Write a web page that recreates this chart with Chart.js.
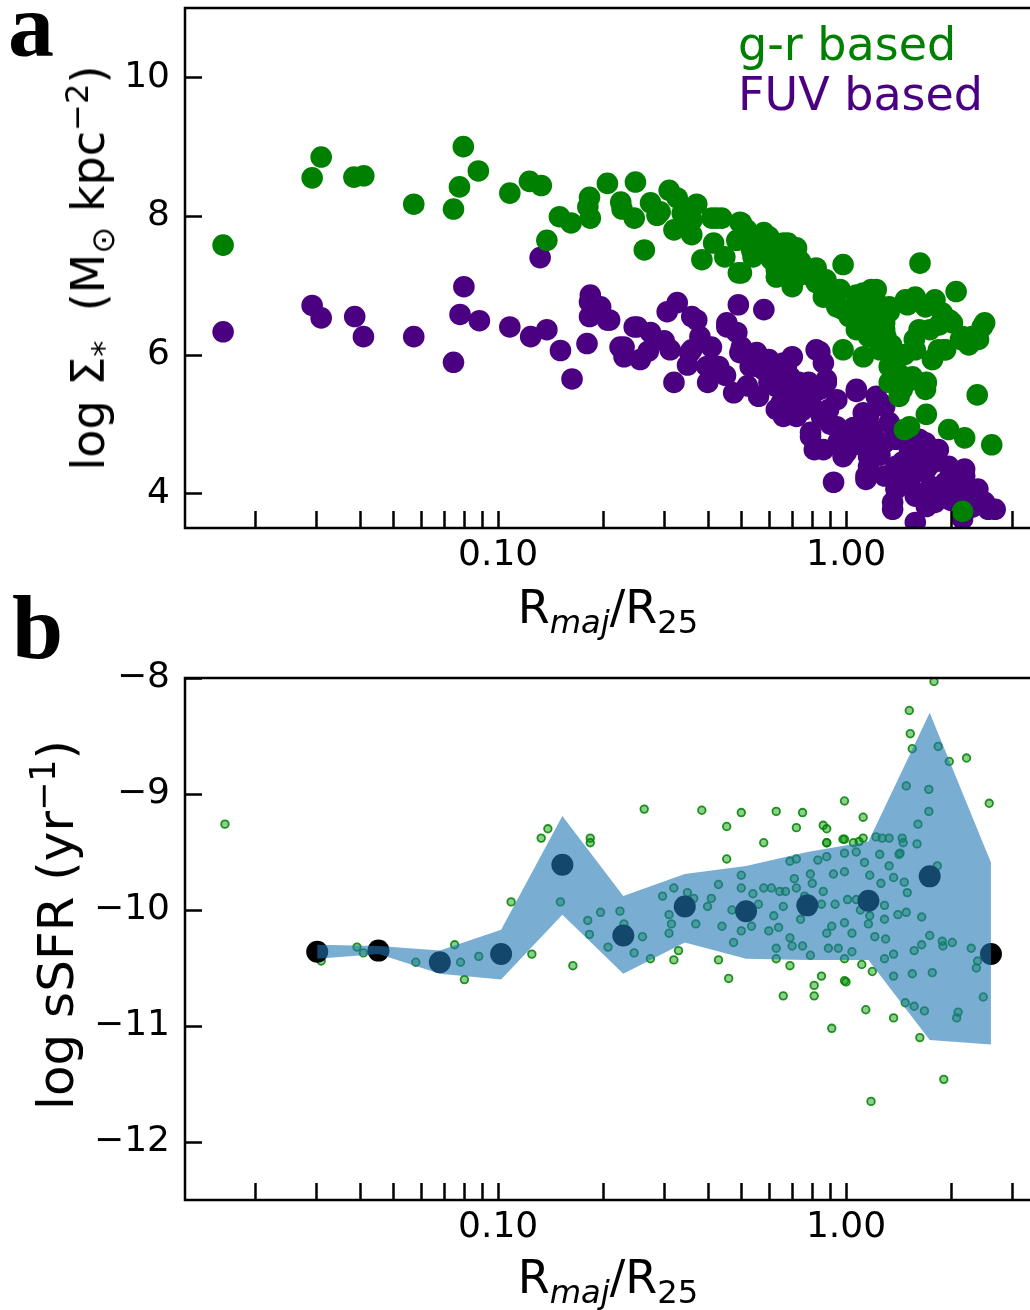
<!DOCTYPE html>
<html lang="en">
<head>
<meta charset="UTF-8">
<script src="https://cdn.jsdelivr.net/npm/chart.js"></script>
<title>Surface density and sSFR profiles</title>
<style>
  html, body { margin: 0; padding: 0; background: #fff; overflow: hidden; width: 1030px; height: 1310px; }
  .box { position: absolute; left: 0; }
  .lbl { position: absolute; font-family: "DejaVu Sans"; color: #000; white-space: nowrap; line-height: 1; }
  .ctr { transform: translateX(-50%); }
  .rot { transform: translate(-50%, -50%) rotate(-90deg); }
  .panel { position: absolute; font-family: "Liberation Serif"; font-weight: bold; font-size: 92px; line-height: 1; }
  sub, sup { font-size: 70%; line-height: 0; }
</style>
</head>
<body>
  <div class="box" style="top:-40px; width:1045px; height:680px;"><canvas id="chartA" width="1045" height="680"></canvas></div>
  <div class="box" style="top:620px; width:1045px; height:690px;"><canvas id="chartB" width="1045" height="690"></canvas></div>

  <div class="panel" style="left:8px; top:-21px;">a</div>
  <div class="panel" style="left:12px; top:581px;">b</div>

  <div class="lbl" style="left:738px; top:21px; font-size:46px; color:green;">g-r based</div>
  <div class="lbl" style="left:738px; top:71px; font-size:46px; color:indigo;">FUV based</div>

  <div class="lbl rot" style="left:88px; top:268px; font-size:46px;">log &Sigma;<sub>*</sub>&nbsp; (M<sub>&#8857;</sub> kpc<sup>&minus;2</sup>)</div>
  <div class="lbl rot" style="left:56px; top:925px; font-size:50px;">log sSFR (yr<sup>&minus;1</sup>)</div>

  <div class="lbl ctr" style="left:608px; top:584px; font-size:46px;">R<sub><i>maj</i></sub>/R<sub>25</sub></div>
  <div class="lbl ctr" style="left:608px; top:1254px; font-size:46px;">R<sub><i>maj</i></sub>/R<sub>25</sub></div>

<script>
// x axis (shared)
const xMin = 0.01259, xMax = 3.47;
const xTicks = [0.02, 0.03, 0.04, 0.05, 0.06, 0.07, 0.08, 0.09, 0.1,
                0.2, 0.3, 0.4, 0.5, 0.6, 0.7, 0.8, 0.9, 1, 2, 3];
const xLabelled = [0.1, 1];

// panel a: log stellar surface density
const yTicksA = [4, 6, 8, 10];
const grPoints = [
  [0.0162,7.58],[0.0292,8.55],[0.0310,8.85],[0.0385,8.56],[0.0411,8.58],[0.0572,8.17],[0.0744,8.10],[0.0774,8.42],[0.0794,9.00],[0.0877,8.65],
  [0.108,8.33],[0.123,8.50],[0.133,8.44],[0.138,7.65],[0.150,7.99],[0.162,7.90],[0.181,8.13],[0.183,8.27],[0.184,7.97],[0.206,8.47],
  [0.225,8.20],[0.227,8.10],[0.246,7.97],[0.248,8.49],[0.263,7.51],[0.274,8.19],[0.286,8.01],[0.292,8.06],[0.310,8.37],[0.320,7.80],
  [0.327,8.26],[0.338,8.04],[0.360,7.94],[0.360,7.73],[0.372,8.17],[0.385,7.37],[0.411,7.97],[0.416,7.61],[0.424,7.97],[0.439,7.97],
  [0.448,7.41],[0.485,7.65],[0.49,7.18],[0.495,7.91],[0.50,7.90],[0.50,7.18],[0.518,7.80],[0.535,7.51],[0.54,7.47],[0.54,7.41],
  [0.553,7.65],[0.58,7.76],[0.59,7.51],[0.60,7.70],[0.61,7.37],[0.63,7.41],[0.63,7.22],[0.63,7.12],[0.66,7.61],[0.66,7.44],
  [0.68,7.61],[0.69,7.22],[0.70,7.51],[0.70,6.98],[0.72,7.54],[0.72,7.12],[0.73,7.37],[0.74,7.34],[0.78,7.15],[0.79,7.22],
  [0.82,7.25],[0.82,7.04],[0.85,7.01],[0.86,6.83],[0.875,7.08],[0.89,6.94],[0.92,6.79],[0.94,6.69],[0.96,6.94],[0.98,7.30],
  [0.98,6.65],[0.98,6.07],[1.02,6.55],[1.03,6.65],[1.07,6.86],[1.07,6.36],[1.11,6.53],[1.12,6.89],[1.12,6.55],[1.12,5.97],
  [1.16,6.79],[1.16,6.26],[1.18,6.94],[1.21,6.50],[1.22,6.94],[1.24,6.72],[1.25,6.07],[1.29,6.36],[1.29,6.46],[1.30,6.26],
  [1.33,6.62],[1.33,6.69],[1.33,5.83],[1.33,5.60],[1.35,6.14],[1.39,5.93],[1.39,5.97],[1.42,5.40],[1.43,5.71],[1.45,5.50],
  [1.47,6.00],[1.47,4.92],[1.48,6.79],[1.50,6.72],[1.52,4.96],[1.55,5.68],[1.56,5.64],[1.57,6.22],[1.58,6.83],[1.58,6.07],
  [1.62,6.36],[1.63,7.32],[1.69,5.50],[1.69,6.69],[1.70,5.60],[1.70,5.14],[1.74,6.36],[1.77,5.93],[1.80,6.79],[1.84,6.07],
  [1.85,6.43],[1.89,6.60],[1.91,6.07],[1.93,6.07],[1.97,4.92],[1.98,6.50],[2.02,6.46],[2.07,6.91],[2.13,6.22],[2.16,6.26],
  [2.19,4.80],[2.25,6.14],[2.30,6.26],[2.38,5.42],[2.40,6.22],[2.46,6.40],[2.50,6.46],[2.62,4.70],[2.16,3.74]
];
const fuvPoints = [
  [0.0162,6.33],[0.0292,6.71],[0.0310,6.53],[0.0387,6.55],[0.0410,6.26],[0.0572,6.26],[0.0744,5.89],[0.0777,6.58],[0.0797,6.98],[0.0883,6.49],
  [0.108,6.40],[0.124,6.26],[0.132,7.40],[0.138,6.36],[0.151,6.06],[0.163,5.65],[0.180,6.16],[0.183,6.76],[0.183,6.55],
  [0.184,6.86],[0.193,6.69],[0.197,6.69],[0.206,6.50],[0.209,6.50],[0.224,6.11],[0.230,6.11],[0.230,5.97],[0.246,6.40],[0.251,6.40],
  [0.256,5.93],[0.27,6.05],[0.274,6.32],[0.30,6.20],[0.306,6.62],[0.312,6.07],[0.320,5.60],[0.327,6.75],[0.35,5.85],[0.355,6.03],
  [0.360,6.55],[0.360,6.07],[0.372,6.50],[0.380,6.26],[0.398,5.83],[0.40,5.60],[0.41,6.11],[0.43,5.83],[0.45,5.70],[0.454,6.46],
  [0.454,6.40],[0.475,5.45],[0.485,6.32],[0.49,6.72],[0.495,6.03],[0.50,6.11],[0.52,5.55],[0.53,5.83],[0.54,5.97],[0.553,6.03],
  [0.553,5.83],[0.56,5.40],[0.58,6.65],[0.58,5.78],[0.60,5.93],[0.60,5.60],[0.62,5.75],[0.63,5.54],[0.63,5.21],[0.65,5.30],
  [0.66,5.88],[0.66,5.11],[0.673,5.83],[0.69,5.35],[0.69,5.68],[0.70,5.97],[0.72,5.50],[0.72,5.11],[0.72,5.54],[0.73,5.60],
  [0.75,5.20],[0.78,5.60],[0.79,5.31],[0.79,5.35],[0.79,4.82],[0.79,4.88],[0.81,4.63],[0.82,6.07],[0.84,5.50],[0.84,6.04],
  [0.85,5.10],[0.86,5.88],[0.86,4.63],[0.877,5.60],[0.877,5.64],[0.89,5.21],[0.90,5.00],[0.92,4.16],[0.94,4.96],[0.94,5.35],
  [0.95,4.75],[0.98,4.53],[1.0,4.88],[1.0,4.59],[1.02,4.73],[1.05,4.95],[1.07,5.50],[1.07,5.47],[1.10,4.70],[1.12,4.92],
  [1.12,5.16],[1.14,4.20],[1.14,4.25],[1.16,5.11],[1.16,4.53],[1.16,4.39],[1.19,4.78],[1.19,4.92],[1.22,5.40],[1.25,5.31],
  [1.25,4.55],[1.29,4.73],[1.29,4.25],[1.29,5.25],[1.33,5.02],[1.36,3.87],[1.36,3.77],[1.39,4.35],[1.39,4.06],[1.39,4.78],
  [1.39,4.39],[1.45,4.45],[1.52,4.63],[1.52,4.92],[1.52,4.16],[1.58,3.58],[1.58,3.96],[1.58,4.30],[1.60,4.55],[1.62,4.78],
  [1.69,4.73],[1.69,4.01],[1.70,4.35],[1.70,3.81],[1.75,4.10],[1.77,4.44],[1.80,3.87],[1.80,4.59],[1.84,4.63],[1.93,4.06],
  [1.93,4.16],[1.97,4.39],[2.0,3.90],[2.07,4.16],[2.16,3.63],[2.19,4.35],[2.19,4.25],[2.22,3.96],[2.30,3.80],[2.39,4.06],
  [2.50,3.87],[2.56,3.77],[2.68,3.77]
];

// panel b: log sSFR
const yTicksB = [-12, -11, -10, -9, -8];
const binR      = [0.0302, 0.0453, 0.068, 0.102, 0.153, 0.229, 0.344, 0.516, 0.774, 1.16, 1.74, 2.61];
const binMedian = [-10.36, -10.35, -10.45, -10.38, -9.61, -10.22, -9.97, -10.01, -9.96, -9.92, -9.71, -10.38];
const binUpper  = [-10.30, -10.31, -10.35, -10.17, -9.19, -9.88, -9.69, -9.62, -9.50, -9.41, -8.30, -9.59];
const binLower  = [-10.42, -10.38, -10.55, -10.60, -10.04, -10.55, -10.28, -10.42, -10.43, -10.43, -11.12, -11.16];
const sfrPoints = [
  [0.0164,-9.26],[0.031,-10.44],[0.0393,-10.32],[0.041,-10.37],[0.058,-10.45],[0.075,-10.30],[0.078,-10.45],[0.080,-10.60],[0.088,-10.40],[0.109,-9.93],
  [0.125,-10.38],[0.133,-9.38],[0.139,-9.30],[0.151,-9.93],[0.164,-10.48],[0.181,-10.09],[0.183,-10.21],[0.184,-9.38],[0.184,-9.42],[0.197,-10.02],
  [0.207,-10.32],[0.224,-10.01],[0.230,-10.12],[0.246,-10.37],[0.260,-10.23],[0.263,-9.13],[0.274,-10.42],[0.297,-9.88],[0.310,-10.04],[0.315,-10.12],
  [0.310,-10.20],[0.320,-9.81],[0.330,-10.35],[0.320,-10.43],[0.365,-9.90],[0.370,-10.12],[0.385,-9.14],[0.400,-9.97],[0.410,-9.90],[0.430,-9.78],
  [0.430,-10.43],[0.440,-10.14],[0.454,-9.28],[0.454,-9.56],[0.460,-10.59],[0.475,-10.28],[0.500,-10.18],[0.500,-9.81],[0.500,-9.70],[0.500,-9.16],
  [0.535,-10.14],[0.540,-9.86],[0.580,-9.81],[0.580,-9.42],[0.610,-9.81],[0.600,-10.18],[0.630,-9.15],[0.640,-10.15],[0.630,-10.33],[0.630,-10.42],
  [0.645,-9.84],[0.660,-9.97],[0.670,-9.84],[0.690,-10.48],[0.690,-9.58],[0.690,-10.24],[0.700,-10.31],[0.710,-9.73],[0.720,-9.29],[0.720,-9.81],
  [0.720,-9.56],[0.740,-10.08],[0.750,-10.31],[0.750,-9.16],[0.790,-9.69],[0.800,-9.77],[0.790,-10.39],[0.810,-10.65],[0.810,-10.74],[0.660,-10.74],
  [0.830,-9.57],[0.850,-10.57],[0.860,-9.84],[0.850,-9.95],[0.860,-9.27],[0.880,-9.30],[0.880,-9.42],[0.880,-9.54],[0.880,-10.20],[0.890,-10.33],
  [0.910,-10.14],[0.920,-9.69],[0.910,-11.02],[0.950,-10.33],[0.990,-9.06],[0.990,-9.39],[0.990,-9.51],[0.990,-9.67],[0.990,-10.11],[0.990,-10.61],
  [1.00,-10.62],[0.990,-10.42],[1.01,-9.91],[1.04,-10.20],[1.04,-10.36],[1.07,-9.91],[1.07,-9.50],[1.09,-9.41],[1.11,-10.47],[1.12,-9.20],
  [1.13,-9.59],[1.12,-9.38],[1.14,-10.86],[1.17,-9.70],[1.17,-10.05],[1.16,-10.12],[1.18,-11.65],[1.19,-10.53],[1.21,-10.23],[1.22,-9.37],
  [1.25,-9.52],[1.26,-9.77],[1.27,-9.38],[1.29,-9.96],[1.29,-10.42],[1.29,-10.08],[1.33,-9.38],[1.33,-9.62],[1.37,-10.93],[1.37,-9.72],
  [1.37,-10.38],[1.37,-10.57],[1.41,-10.04],[1.42,-9.52],[1.43,-9.51],[1.45,-9.38],[1.46,-9.42],[1.47,-9.76],[1.48,-10.80],[1.49,-8.93],
  [1.49,-10.02],[1.52,-8.28],[1.53,-8.48],[1.55,-8.61],[1.55,-10.55],[1.57,-10.83],[1.57,-10.35],[1.60,-9.43],[1.61,-9.26],[1.63,-11.10],
  [1.65,-10.06],[1.68,-10.87],[1.73,-8.96],[1.73,-9.15],[1.74,-10.22],[1.77,-10.54],[1.79,-8.03],[1.83,-9.62],[1.84,-8.59],[1.89,-10.27],
  [1.90,-10.31],[1.91,-11.46],[1.98,-8.72],[2.02,-10.28],[2.08,-10.93],[2.10,-10.88],[2.22,-8.69],[2.29,-10.33],[2.37,-10.50],[2.39,-10.44],
  [2.48,-10.75],[2.58,-9.08],[0.88,-9.42],[0.98,-9.39],[1.05,-9.42],[0.56,-9.95],[0.62,-10.05],[0.76,-9.88],[0.93,-9.95],[1.10,-10.00],
  [1.30,-10.25],[1.50,-9.85],[1.65,-10.30],[0.47,-10.00],[0.35,-9.85]
];

const tickFont = { family: 'DejaVu Sans', size: 36 };
const toXY = p => ({ x: p[0], y: p[1] });

// matplotlib-like frame with inward ticks, drawn on top of the data
const frameTicks = {
  id: 'frameTicks',
  afterDraw(chart) {
    const { ctx, chartArea: a, scales } = chart;
    ctx.save();
    ctx.strokeStyle = '#000';
    ctx.lineWidth = 2.5;
    ctx.strokeRect(a.left, a.top, a.right - a.left, a.bottom - a.top);
    ctx.beginPath();
    scales.x.ticks.forEach(t => {
      const px = Math.round(scales.x.getPixelForValue(t.value)) + 0.5;
      ctx.moveTo(px, a.bottom);
      ctx.lineTo(px, a.bottom - 17);
    });
    scales.y.ticks.forEach(t => {
      const py = Math.round(scales.y.getPixelForValue(t.value)) + 0.5;
      ctx.moveTo(a.left, py);
      ctx.lineTo(a.left + 17, py);
    });
    ctx.stroke();
    ctx.restore();
  }
};

function makeScales(yMin, yMax, yTicks, xHeight) {
  return {
    x: {
      type: 'logarithmic', min: xMin, max: xMax,
      grid: { display: false, drawTicks: false }, border: { display: false },
      afterBuildTicks: s => { s.ticks = xTicks.map(v => ({ value: v })); },
      afterFit: s => { s.height = xHeight; },
      ticks: {
        autoSkip: false, maxRotation: 0, minRotation: 0, padding: 6, color: '#000', font: tickFont,
        callback: v => xLabelled.some(m => Math.abs(m - v) < 1e-9) ? Number(v).toFixed(2) : ''
      }
    },
    y: {
      type: 'linear', min: yMin, max: yMax,
      grid: { display: false, drawTicks: false }, border: { display: false },
      afterBuildTicks: s => { s.ticks = yTicks.map(v => ({ value: v })); },
      afterFit: s => { s.width = 185; },
      ticks: {
        padding: 15, color: '#000', font: tickFont,
        callback: v => String(v).replace('-', '\u2212')
      }
    }
  };
}

const common = {
  responsive: false,
  animation: false,
  devicePixelRatio: 1,
  events: [],
  plugins: { legend: { display: false }, tooltip: { enabled: false } }
};

// panel a
new Chart(document.getElementById('chartA'), {
  type: 'scatter',
  data: {
    datasets: [
      { label: 'g-r based', data: grPoints.map(toXY), backgroundColor: 'green', borderWidth: 0,
        pointRadius: 10.8, order: 0, clip: 0 },
      { label: 'FUV based', data: fuvPoints.map(toXY), backgroundColor: 'indigo', borderWidth: 0,
        pointRadius: 10.8, order: 1, clip: 0 }
    ]
  },
  options: Object.assign({}, common, {
    layout: { padding: { top: 48, right: 6, left: 0, bottom: 0 } },
    scales: makeScales(3.5, 11.0, yTicksA, 112)
  }),
  plugins: [frameTicks]
});

// panel b
new Chart(document.getElementById('chartB'), {
  type: 'scatter',
  data: {
    datasets: [
      { type: 'line', label: 'upper', data: binR.map((r, i) => ({ x: r, y: binUpper[i] })),
        borderWidth: 0, pointRadius: 0, tension: 0, fill: '+1',
        backgroundColor: 'rgba(31,119,180,0.6)', order: 0, clip: 0 },
      { type: 'line', label: 'lower', data: binR.map((r, i) => ({ x: r, y: binLower[i] })),
        borderWidth: 0, pointRadius: 0, tension: 0, fill: false, order: 0, clip: 0 },
      { label: 'median', data: binR.map((r, i) => ({ x: r, y: binMedian[i] })),
        backgroundColor: '#000', borderWidth: 0, pointRadius: 11, order: 1, clip: 0 },
      { label: 'regions', data: sfrPoints.map(toXY), backgroundColor: 'rgba(0,150,0,0.45)',
        borderColor: 'rgba(0,128,0,0.85)', borderWidth: 1.8, pointRadius: 3.8, order: 2, clip: 0 }
    ]
  },
  options: Object.assign({}, common, {
    layout: { padding: { top: 58, right: 6, left: 0, bottom: 0 } },
    scales: makeScales(-12.5, -8.0, yTicksB, 110)
  }),
  plugins: [frameTicks]
});
</script>
</body>
</html>
